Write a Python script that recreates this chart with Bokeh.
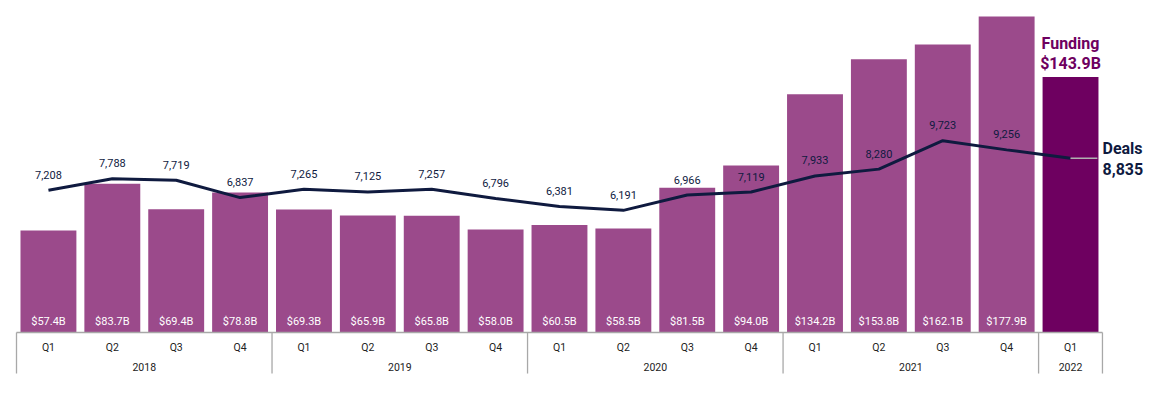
from bokeh.plotting import figure
from bokeh.models import Range1d
from bokeh.core.properties import value
from bokeh.embed import file_html
from bokeh.resources import INLINE

# ---- data ----
quarters = ["Q1", "Q2", "Q3", "Q4"] * 4 + ["Q1"]
years = ["2018"] * 4 + ["2019"] * 4 + ["2020"] * 4 + ["2021"] * 4 + ["2022"]
funding = [57.4, 83.7, 69.4, 78.8, 69.3, 65.9, 65.8, 58.0, 60.5, 58.5,
           81.5, 94.0, 134.2, 153.8, 162.1, 177.9, 143.9]
deals = [7208, 7788, 7719, 6837, 7265, 7125, 7257, 6796, 6381, 6191,
         6966, 7119, 7933, 8280, 9723, 9256, 8835]

# ---- styles ----
BAR = "#9b4a8b"
LATEST = "#6e0060"
NAVY = "#0f1a3f"
AXIS = "#a8a8a8"
FONT = value("Roboto")

n = len(funding)
xs = [i + 0.5 for i in range(n)]

p = figure(width=1150, height=390, output_backend="svg", toolbar_location=None,
           x_range=Range1d(-0.2505, 17.752), y_range=Range1d(-32.66, 186.94),
           x_axis_location=None, y_axis_location=None, min_border=0,
           outline_line_color=None, background_fill_color="white")
p.grid.visible = False
p.extra_y_ranges = {"deals": Range1d(-2940, 16827)}

# bars
colors = [BAR] * (n - 1) + [LATEST]
p.vbar(x=xs, top=funding, bottom=0, width=0.875, fill_color=colors, line_color=None)

# funding labels inside bars (not for latest)
p.text(x=xs[:-1], y=[0] * (n - 1), text=[f"${v:.1f}B" for v in funding[:-1]],
       text_color="white", text_font=FONT, text_font_size="11px",
       text_align="center", text_baseline="middle", y_offset=-11)

# deals line
p.line(x=xs, y=deals, y_range_name="deals", line_color=NAVY, line_width=3)

# leader for last deal point
p.segment(x0=[xs[-1]], y0=[deals[-1]], x1=[xs[-1] + 0.42], y1=[deals[-1]],
          y_range_name="deals", line_color="#b0b0b0", line_width=1.5)

# deal labels
p.text(x=xs[:-1], y=deals[:-1], text=[f"{d:,}" for d in deals[:-1]],
       y_range_name="deals", text_color=NAVY,
       text_font=FONT, text_font_size="11px",
       text_align="center", text_baseline="middle", y_offset=-15.5)

# latest callouts
p.text(x=[xs[-1]] * 2, y=[funding[-1]] * 2, text=["Funding", f"${funding[-1]:.1f}B"],
       text_color=LATEST, text_font=FONT, text_font_size="16px", text_font_style="bold",
       text_align="center", text_baseline="middle", y_offset=[-33.4, -13.4])
p.text(x=[xs[-1]] * 2, y=[deals[-1]] * 2, text=["Deals", f"{deals[-1]:,}"],
       y_range_name="deals", text_color=NAVY, text_font=FONT, text_font_size="16px",
       text_font_style="bold", text_align="left", text_baseline="middle",
       x_offset=32, y_offset=[-9.6, 10.4])

# ---- custom two-level category axis ----
bounds = [0] + [i for i in range(1, n) if years[i] != years[i - 1]] + [n]
p.segment(x0=[0], y0=[0], x1=[n], y1=[0], line_color=AXIS, line_width=1.3)
sep_depth = -23.1
p.segment(x0=bounds, y0=[0] * len(bounds), x1=bounds, y1=[sep_depth] * len(bounds),
          line_color=AXIS, line_width=1.3)
p.text(x=xs, y=[0] * n, text=quarters, text_color="#222222", text_font=FONT,
       text_font_size="10.5px", text_align="center", text_baseline="middle", y_offset=14.7)
yr_labels = [years[b] for b in bounds[:-1]]
yr_x = [(a + b) / 2 for a, b in zip(bounds[:-1], bounds[1:])]
p.text(x=yr_x, y=[0] * len(yr_x), text=yr_labels, text_color="#222222", text_font=FONT,
       text_font_size="10.5px", text_align="center", text_baseline="middle", y_offset=34.7)

open("out.html", "w").write(file_html(p, INLINE))
